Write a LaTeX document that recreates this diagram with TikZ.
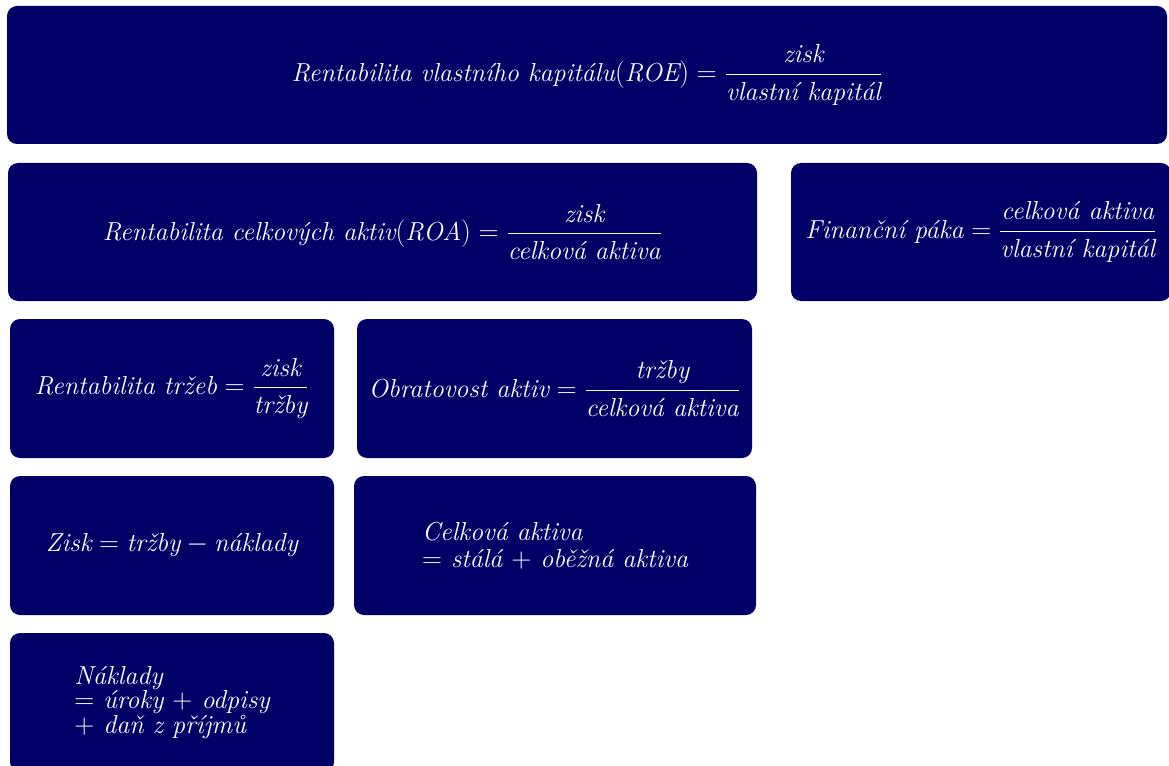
\documentclass[tikz,border=0pt]{standalone}
\usepackage{amsmath}
\usepackage{tikz}
\usetikzlibrary{positioning}
\definecolor{navybox}{RGB}{0, 0, 102}

\begin{document}
\begin{tikzpicture}[x=0.75pt, y=-0.75pt,
    box/.style={fill=navybox, rounded corners=7.5pt, text=white, inner sep=0pt,
        font=\fontsize{19.5}{20}\selectfont\itshape}]
\useasboundingbox (0,0) rectangle (1169,766);
% top row
\node[box, minimum width=870pt, minimum height=103.5pt] (roe) at (587,75)
    {$\text{Rentabilita vlastního kapitálu}(\textit{ROE}) = \dfrac{\text{zisk}}{\text{vlastní kapitál}}$};
% second row
\node[box, minimum width=561.75pt, minimum height=103.5pt] (roa) at (382.5,232)
    {$\text{Rentabilita celkových aktiv}(\textit{ROA}) = \dfrac{\text{zisk}}{\text{celková aktiva}}$};
\node[box, minimum width=285pt, minimum height=103.5pt] (paka) at (981,232)
    {$\text{Finanční páka} = \dfrac{\text{celková aktiva}}{\text{vlastní kapitál}}$};
% third row
\node[box, minimum width=243pt, minimum height=104.25pt] (trzby) at (172,388.5)
    {$\text{Rentabilita tržeb} = \dfrac{\text{zisk}}{\text{tržby}}$};
\node[box, minimum width=296.25pt, minimum height=104.25pt] (obrat) at (554.5,388.5)
    {$\text{Obratovost aktiv} = \dfrac{\text{tržby}}{\text{celková aktiva}}$};
% fourth row
\node[box, minimum width=243pt, minimum height=104.25pt] (zisk) at (172,545.5)
    {$\text{Zisk} = \text{tržby} - \text{náklady}$};
\node[box, minimum width=301.5pt, minimum height=104.25pt, align=left] (aktiva) at (555,545.5)
    {Celková aktiva\\$=$ stálá $+$ oběžná aktiva};
% fifth row
\node[box, minimum width=243pt, minimum height=104.25pt, align=left,
    font=\fontsize{19.5}{17}\selectfont\itshape] (naklady) at (172,702.5)
    {Náklady\\$=$ úroky $+$ odpisy\\$+$ daň z příjmů};
\end{tikzpicture}
\end{document}
